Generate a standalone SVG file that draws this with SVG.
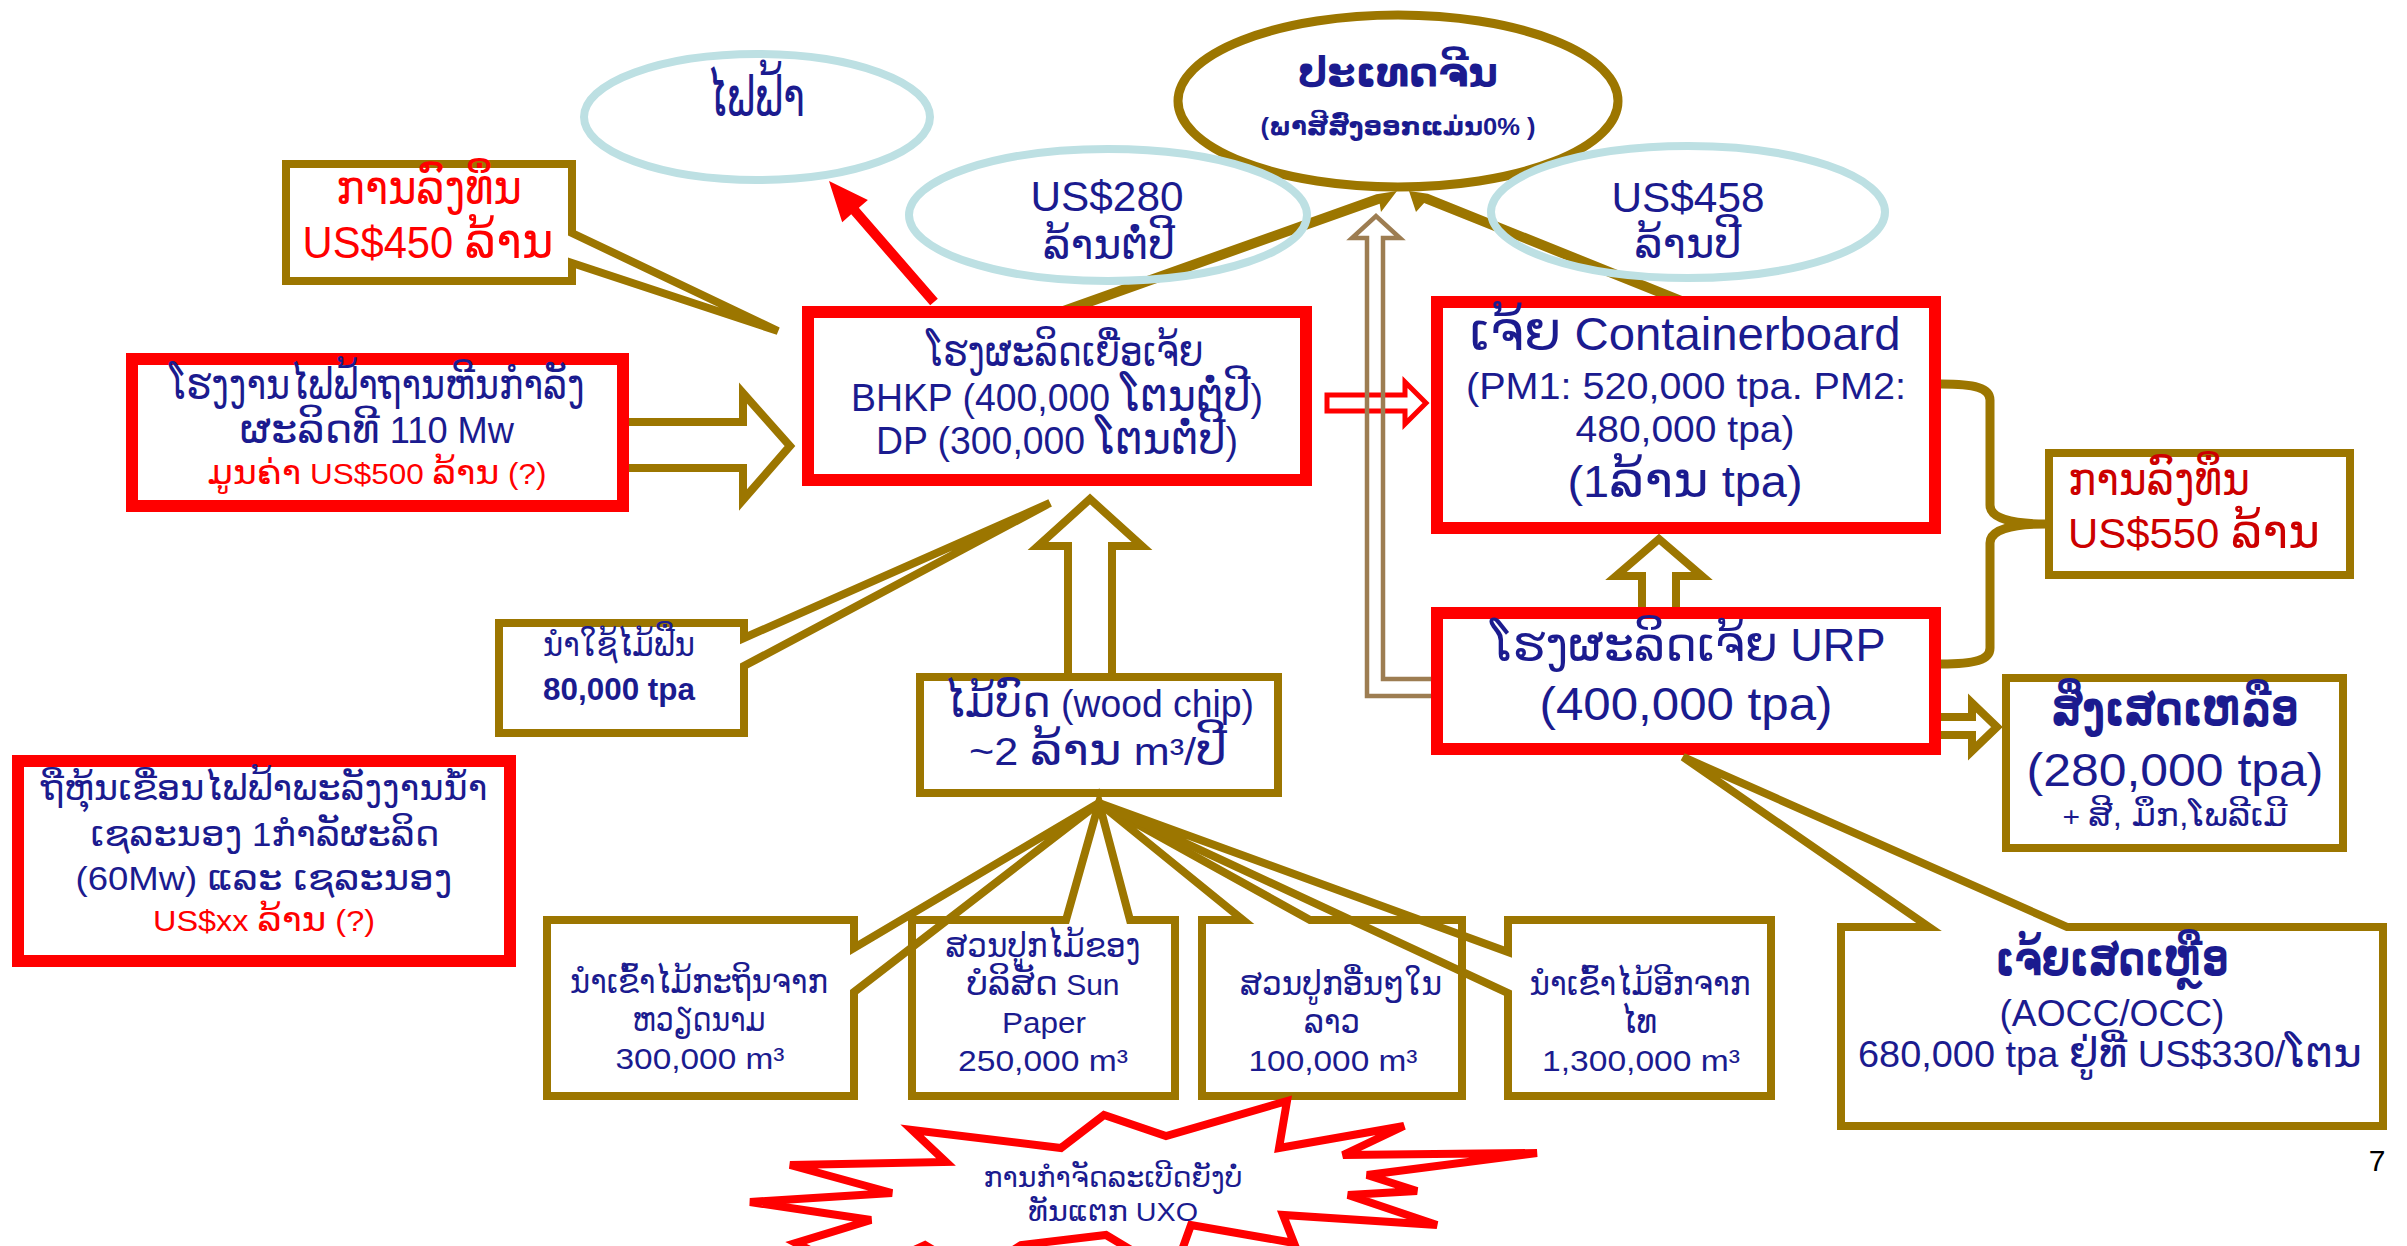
<svg xmlns="http://www.w3.org/2000/svg" width="2407" height="1246" viewBox="0 0 2407 1246">
<defs>
<style>
text { font-family: "Liberation Sans", "DejaVu Sans", sans-serif; fill: #1b1b8f; text-anchor: middle; }
.lo { font-size: 115%; }
.lo2 { font-size: 106%; }
.red { fill: #ff0000; }
.dred { fill: #cc0000; }
.b { font-weight: bold; }
.rbox { fill: #ffffff; stroke: #ff0000; stroke-width: 12; }
.bbox { fill: #ffffff; stroke: #9c7600; stroke-width: 8; }
.callout { fill: none; stroke: #9c7600; stroke-width: 8; stroke-linejoin: miter; }
.bell { fill: none; stroke: #bde0e3; stroke-width: 8; }
.barrow { fill: #ffffff; stroke: #9c7600; stroke-width: 8; stroke-linejoin: miter; }
</style>
</defs>
<rect width="2407" height="1246" fill="#ffffff"/>

<g id="china">
<ellipse cx="1398" cy="101" rx="220" ry="86" fill="#ffffff" stroke="#9c7600" stroke-width="9"/>
<text x="1398" y="86" font-size="40" class="b" textLength="200" lengthAdjust="spacingAndGlyphs">ປະເທດຈີນ</text>
<text x="1398" y="135" font-size="24" class="b" textLength="275" lengthAdjust="spacingAndGlyphs">(ພາສີສົ່ງອອກແມ່ນ0% )</text>
</g>

<g id="electricity">
<ellipse cx="757" cy="117" rx="173" ry="63" class="bell"/>
<text x="756" y="116" font-size="56" textLength="98" lengthAdjust="spacingAndGlyphs">ໄຟຟ້າ</text>
</g>

<g id="connectors">
<polygon points="1056.3,308.3 1376.3,194.3 1397,191 1381,212 1379.7,203.7 1059.7,317.7" fill="#9c7600"/>
<polygon points="1685.9,297.4 1427.9,193.7 1409,191 1416,212 1424.1,202.9 1682.1,306.6" fill="#9c7600"/>
<polygon points="930.2,305.3 937.8,298.7 858.8,207.7 867.9,199.9 829,181 842.2,222.2 851.2,214.3" fill="#ff0000"/>
<polygon points="623,422 743,422 743,393 790,446 743,500 743,468 623,468" class="barrow"/>
<polygon points="1068,677 1068,546 1038,546 1090,499 1142,546 1112,546 1112,677" class="barrow"/>
<polygon points="1642,613 1642,576 1616,576 1659,539 1702,576 1676,576 1676,613" class="barrow"/>
<polygon points="1937,717 1972,717 1972,703 1997,727 1972,751 1972,735 1937,735" class="barrow" stroke-width="6"/>
<polygon points="1327,395 1405,395 1405,382 1426,403 1405,424 1405,411 1327,411" fill="#ffffff" stroke="#ff0000" stroke-width="5"/>
<path d="M1438 679 H1383 V238 H1400 L1376 216 L1352 238 H1367 V696 H1438" fill="none" stroke="#9d7d52" stroke-width="4.5"/>
<path d="M1941 384 C1975 384 1990 388 1990 400 L1990 505 C1990 518 2010 524 2046 524 C2010 524 1990 530 1990 543 L1990 648 C1990 660 1975 664 1941 664" fill="none" stroke="#9c7600" stroke-width="9"/>
</g>

<g id="pulp-mill">
<rect x="808" y="312" width="498" height="168" class="rbox"/>
<text x="1065" y="366" font-size="42" textLength="277" lengthAdjust="spacingAndGlyphs">ໂຮງຜະລິດເຍື່ອເຈ້ຍ</text>
<text x="1057" y="411" font-size="38" textLength="412" lengthAdjust="spacingAndGlyphs">BHKP (400,000 <tspan class="lo">ໂຕນຕໍ່ປີ</tspan>)</text>
<text x="1057" y="454" font-size="38" textLength="362" lengthAdjust="spacingAndGlyphs">DP (300,000 <tspan class="lo">ໂຕນຕໍ່ປີ</tspan>)</text>
</g>

<g id="coal-plant">
<rect x="132" y="359" width="491" height="147" class="rbox"/>
<text x="377" y="399" font-size="42" textLength="415" lengthAdjust="spacingAndGlyphs">ໂຮງງານໄຟຟ້າຖານຫີນກຳລັງ</text>
<text x="377" y="443" font-size="36" textLength="274" lengthAdjust="spacingAndGlyphs"><tspan class="lo">ຜະລິດທີ</tspan> 110 Mw</text>
<text x="377" y="484" font-size="30" class="red" textLength="339" lengthAdjust="spacingAndGlyphs"><tspan class="lo">ມູນຄ່າ</tspan> US$500 <tspan class="lo">ລ້ານ</tspan> (?)</text>
</g>

<g id="hydro">
<rect x="18" y="761" width="492" height="200" class="rbox"/>
<text x="264" y="800" font-size="36" textLength="447" lengthAdjust="spacingAndGlyphs">ຖືຫຸ້ນເຂື່ອນໄຟຟ້າພະລັງງານນ້ຳ</text>
<text x="265" y="846" font-size="34" textLength="349" lengthAdjust="spacingAndGlyphs"><tspan class="lo2">ເຊລະນອງ</tspan> 1<tspan class="lo2">ກຳລັຜະລິດ</tspan></text>
<text x="264" y="890" font-size="34" textLength="377" lengthAdjust="spacingAndGlyphs">(60Mw) <tspan class="lo2">ແລະ ເຊລະນອງ</tspan></text>
<text x="264" y="931" font-size="30" class="red" textLength="222" lengthAdjust="spacingAndGlyphs">US$xx <tspan class="lo">ລ້ານ</tspan> (?)</text>
</g>

<g id="containerboard">
<rect x="1437" y="302" width="498" height="226" class="rbox"/>
<text x="1685" y="350" font-size="46" textLength="431" lengthAdjust="spacingAndGlyphs"><tspan class="lo">ເຈ້ຍ</tspan> Containerboard</text>
<text x="1686" y="399" font-size="36" textLength="440" lengthAdjust="spacingAndGlyphs">(PM1: 520,000 tpa. PM2:</text>
<text x="1685" y="442" font-size="36" textLength="219" lengthAdjust="spacingAndGlyphs">480,000 tpa)</text>
<text x="1685" y="497" font-size="44" textLength="235" lengthAdjust="spacingAndGlyphs">(1<tspan class="lo">ລ້ານ</tspan> tpa)</text>
</g>

<g id="urp">
<rect x="1437" y="613" width="498" height="136" class="rbox"/>
<text x="1688" y="661" font-size="46" textLength="395" lengthAdjust="spacingAndGlyphs"><tspan class="lo2">ໂຮງຜະລິດເຈ້ຍ</tspan> URP</text>
<text x="1686" y="720" font-size="46" textLength="293" lengthAdjust="spacingAndGlyphs">(400,000 tpa)</text>
</g>

<g id="investment-550">
<rect x="2049" y="453" width="301" height="122" class="bbox"/>
<text x="2068" y="495" font-size="46" class="dred" style="text-anchor:start" textLength="182" lengthAdjust="spacingAndGlyphs">ການລົງທຶນ</text>
<text x="2068" y="548" font-size="42" class="dred" style="text-anchor:start" textLength="252" lengthAdjust="spacingAndGlyphs">US$550 <tspan class="lo">ລ້ານ</tspan></text>
</g>

<g id="residue">
<rect x="2006" y="678" width="337" height="170" class="bbox"/>
<text x="2175" y="725" font-size="48" class="b" textLength="247" lengthAdjust="spacingAndGlyphs">ສິ່ງເສດເຫລືອ</text>
<text x="2175" y="786" font-size="46" textLength="297" lengthAdjust="spacingAndGlyphs">(280,000 tpa)</text>
<text x="2175" y="826" font-size="28" textLength="225" lengthAdjust="spacingAndGlyphs">+ <tspan class="lo">ສີ, ມຶກ,ໂພລີເມີ</tspan></text>
</g>

<g id="wood-chip">
<rect x="920" y="677" width="358" height="116" class="bbox"/>
<text x="1099" y="717" font-size="38" textLength="310" lengthAdjust="spacingAndGlyphs"><tspan class="lo">ໄມ້ບົດ</tspan> (wood chip)</text>
<text x="1098" y="765" font-size="38" textLength="258" lengthAdjust="spacingAndGlyphs">~2 <tspan class="lo">ລ້ານ</tspan> m³/<tspan class="lo">ປີ</tspan></text>
</g>

<g id="us280">
<ellipse cx="1108" cy="215" rx="199" ry="66" class="bell"/>
<text x="1107" y="211" font-size="42" textLength="153" lengthAdjust="spacingAndGlyphs">US$280</text>
<text x="1109" y="259" font-size="42" textLength="132" lengthAdjust="spacingAndGlyphs">ລ້ານຕໍ່ປີ</text>
</g>

<g id="us458">
<ellipse cx="1688" cy="212" rx="197" ry="66" class="bell"/>
<text x="1688" y="212" font-size="42" textLength="153" lengthAdjust="spacingAndGlyphs">US$458</text>
<text x="1688" y="258" font-size="42" textLength="107" lengthAdjust="spacingAndGlyphs">ລ້ານປີ</text>
</g>

<g id="investment-450">
<path d="M286 164 H572 V233 L778 331 L572 263 V281 H286 Z" class="callout" fill="#ffffff"/>
<text x="429" y="204" font-size="48" class="red" textLength="186" lengthAdjust="spacingAndGlyphs">ການລົງທຶນ</text>
<text x="428" y="258" font-size="44" class="red" textLength="251" lengthAdjust="spacingAndGlyphs">US$450 <tspan class="lo">ລ້ານ</tspan></text>
</g>

<g id="firewood">
<path d="M499 623 H744 V638 L1050 503 L744 666 V733 H499 Z" class="callout"/>
<text x="619" y="656" font-size="33" textLength="152" lengthAdjust="spacingAndGlyphs">ນຳໃຊ້ໄມ້ຟືນ</text>
<text x="619" y="700" font-size="31" class="b" textLength="152" lengthAdjust="spacingAndGlyphs">80,000 tpa</text>
</g>

<g id="import-vietnam">
<path d="M547 920 H854 V948 L1099 803 L854 992 V1096 H547 Z" class="callout"/>
<text x="699" y="993" font-size="33" textLength="258" lengthAdjust="spacingAndGlyphs">ນຳເຂົ້າໄມ້ກະຖິນຈາກ</text>
<text x="699" y="1031" font-size="33" textLength="133" lengthAdjust="spacingAndGlyphs">ຫວຽດນາມ</text>
<text x="700" y="1069" font-size="30" textLength="169" lengthAdjust="spacingAndGlyphs">300,000 m³</text>
</g>

<g id="sun-paper">
<path d="M912 920 H1066 L1099 803 L1130 920 H1175 V1096 H912 Z" class="callout"/>
<text x="1043" y="957" font-size="33" textLength="195" lengthAdjust="spacingAndGlyphs">ສວນປູກໄມ້ຂອງ</text>
<text x="1043" y="995" font-size="30" textLength="153" lengthAdjust="spacingAndGlyphs"><tspan class="lo">ບໍລິສັດ</tspan> Sun</text>
<text x="1044" y="1033" font-size="30" textLength="84" lengthAdjust="spacingAndGlyphs">Paper</text>
<text x="1043" y="1071" font-size="30" textLength="170" lengthAdjust="spacingAndGlyphs">250,000 m³</text>
</g>

<g id="other-laos">
<path d="M1202 920 H1243 L1099 803 L1310 920 H1462 V1096 H1202 Z" class="callout"/>
<text x="1341" y="995" font-size="33" textLength="202" lengthAdjust="spacingAndGlyphs">ສວນປູກອື່ນໆໃນ</text>
<text x="1332" y="1033" font-size="33" textLength="56" lengthAdjust="spacingAndGlyphs">ລາວ</text>
<text x="1333" y="1071" font-size="30" textLength="169" lengthAdjust="spacingAndGlyphs">100,000 m³</text>
</g>

<g id="import-thailand">
<path d="M1508 920 H1771 V1096 H1508 V993 L1099 803 L1508 952 Z" class="callout"/>
<text x="1640" y="995" font-size="33" textLength="221" lengthAdjust="spacingAndGlyphs">ນຳເຂົ້າໄມ້ອີກຈາກ</text>
<text x="1639" y="1033" font-size="33" textLength="36" lengthAdjust="spacingAndGlyphs">ໄທ</text>
<text x="1641" y="1071" font-size="30" textLength="198" lengthAdjust="spacingAndGlyphs">1,300,000 m³</text>
</g>

<g id="waste-paper">
<path d="M1841 927 H1929 L1683 757 L2067 927 H2383 V1126 H1841 Z" class="callout"/>
<text x="2112" y="975" font-size="48" class="b" textLength="233" lengthAdjust="spacingAndGlyphs">ເຈ້ຍເສດເຫຼືອ</text>
<text x="2112" y="1026" font-size="36" textLength="225" lengthAdjust="spacingAndGlyphs">(AOCC/OCC)</text>
<text x="2110" y="1067" font-size="36" textLength="504" lengthAdjust="spacingAndGlyphs">680,000 tpa <tspan class="lo">ຢູ່ທີ່</tspan> US$330/<tspan class="lo">ໂຕນ</tspan></text>
</g>

<g id="uxo">
<polygon points="912,1130 1061,1148 1104,1115 1166,1136 1287,1101 1279,1148 1404,1126 1343,1155 1537,1153 1367,1175 1417,1191 1348,1195 1437,1225 1283,1215 1294,1243 1191,1225 1173,1275 1106,1235 1021,1245 975,1275 925,1245 860,1275 796,1243 871,1220 750,1202 892,1193 790,1165 946,1162" fill="#ffffff" stroke="#ff0000" stroke-width="8" stroke-linejoin="miter"/>
<text x="1113" y="1187" font-size="28" textLength="259" lengthAdjust="spacingAndGlyphs">ການກຳຈັດລະເບີດຍັງບໍ່</text>
<text x="1113" y="1221" font-size="26" textLength="170" lengthAdjust="spacingAndGlyphs"><tspan class="lo2">ທັນແຕກ</tspan> UXO</text>
</g>

<text x="2377" y="1171" font-size="30" style="fill:#000000">7</text>
</svg>
